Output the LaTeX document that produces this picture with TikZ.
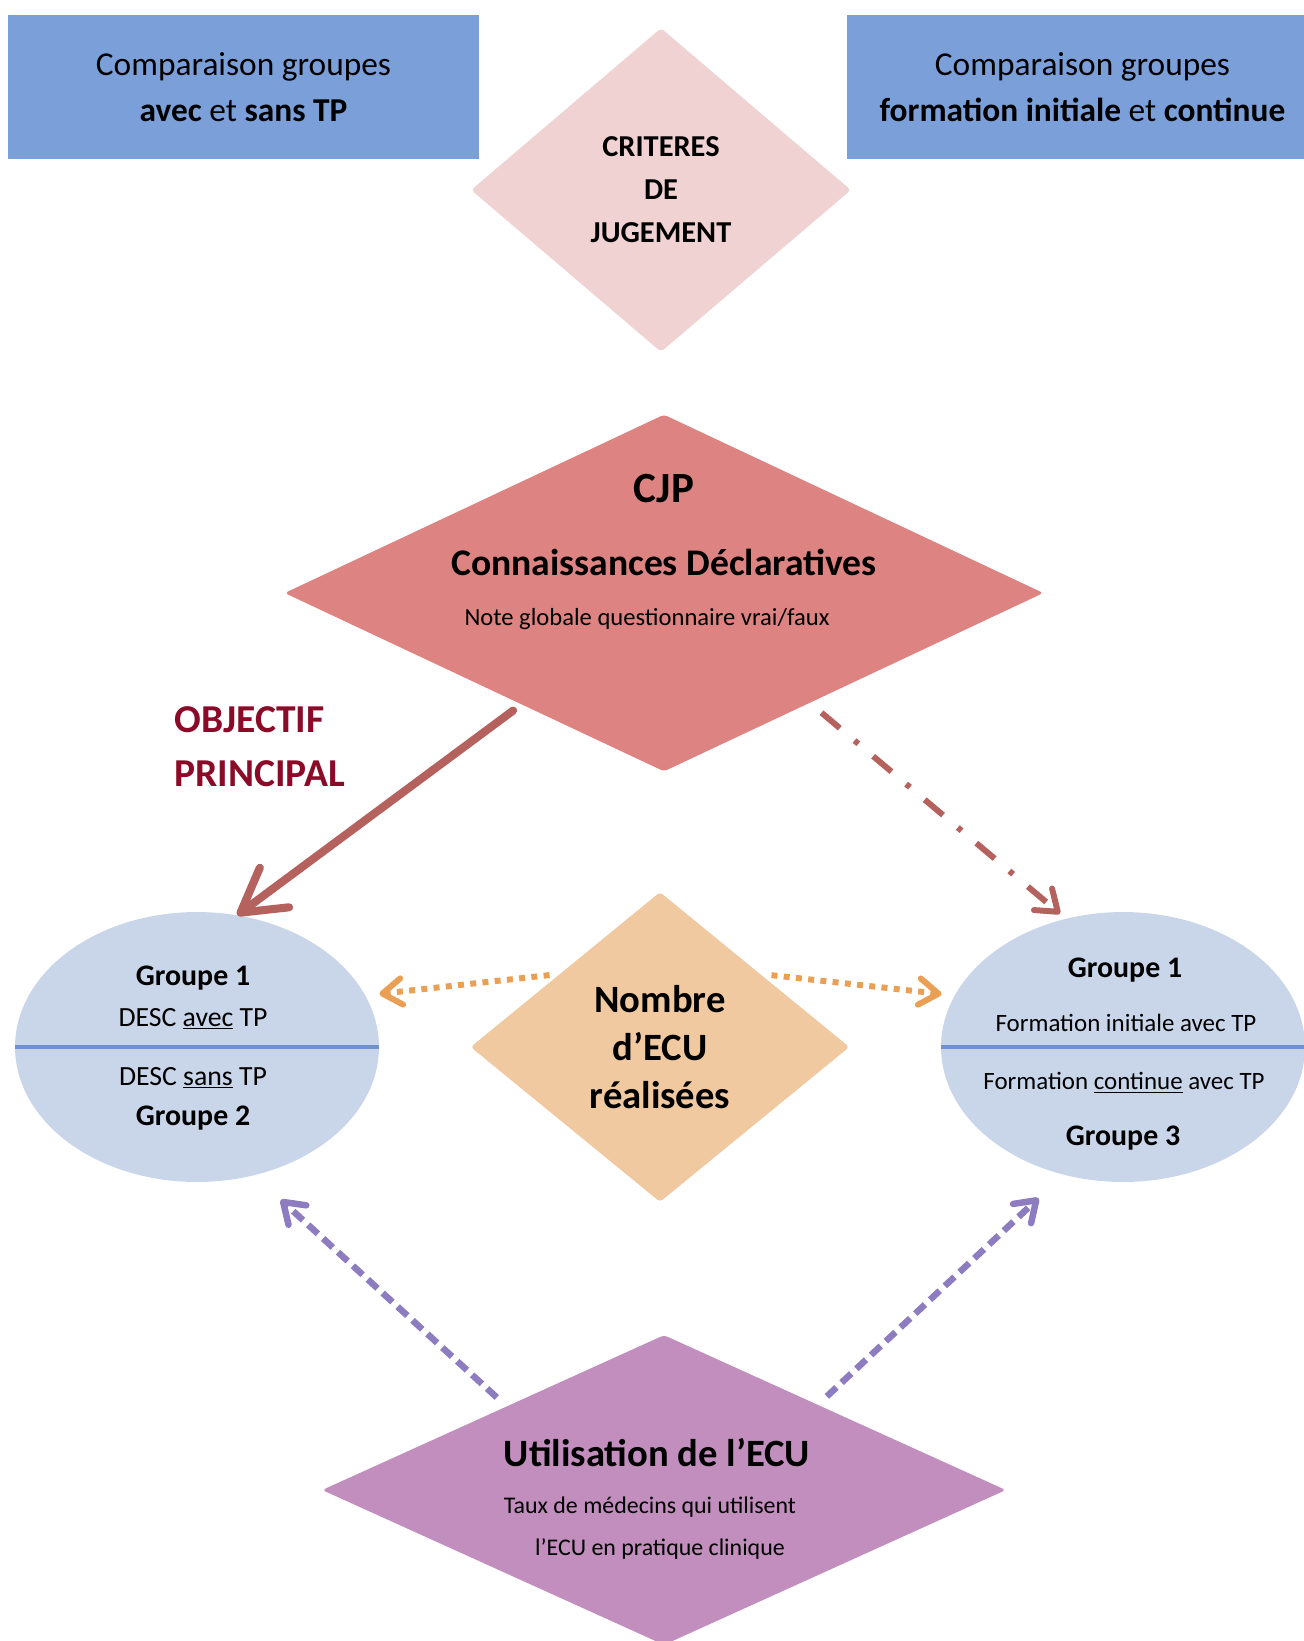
\documentclass[tikz,border=0pt]{standalone}
\usepackage{fontspec}
\setmainfont{Carlito}
\usepackage{tikz}
\usetikzlibrary{arrows.meta, positioning, shapes.geometric}
\definecolor{BoxBlue}{RGB}{123,160,217}
\definecolor{CritPink}{RGB}{240,210,211}
\definecolor{CjpRed}{RGB}{221,132,130}
\definecolor{NbrOrange}{RGB}{240,201,160}
\definecolor{EcuPurple}{RGB}{193,142,189}
\definecolor{GrpBlue}{RGB}{201,214,234}
\definecolor{DivBlue}{RGB}{112,146,204}
\definecolor{ObjRed}{RGB}{139,10,40}
\definecolor{ArrRed}{RGB}{181,97,94}
\definecolor{ArrOrange}{RGB}{233,160,85}
\definecolor{ArrPurple}{RGB}{142,124,192}
\definecolor{UlGray}{RGB}{90,90,100}

\begin{document}
\begin{tikzpicture}[x=0.02cm, y=-0.02cm,
  topbox/.style={rectangle, fill=BoxBlue, minimum width=9.42cm, minimum height=2.88cm,
                 align=center, font=\fontsize{19}{26.6}\selectfont},
  losange/.style={diamond, inner sep=0pt, rounded corners=2pt, align=center},
  groupe/.style={ellipse, fill=GrpBlue, minimum width=7.28cm, minimum height=5.4cm, inner sep=0pt},
  lbl/.style={inner sep=0pt, align=center},
  grpname/.style={lbl, font=\bfseries\fontsize{17}{20}\selectfont},
  divline/.style={draw=DivBlue, line width=2.6pt},
  bigarrow/.style={draw=ArrRed, line width=4.6pt, line cap=round,
                   -{Straight Barb[length=24pt, width=28pt, round]}},
  dasharrow/.style={draw=ArrRed, line width=3.4pt,
                    dash pattern=on 13.6pt off 11pt on 2.8pt off 11pt,
                    -{Straight Barb[length=11pt, width=16pt, round]}},
  dotarrow/.style={draw=ArrOrange, line width=3.4pt, dash pattern=on 3.4pt off 3.6pt,
                   -{Straight Barb[length=11pt, width=15pt, round]}},
  purparrow/.style={draw=ArrPurple, line width=3.7pt, dash pattern=on 7.5pt off 4pt,
                    -{Straight Barb[length=11pt, width=15pt, round]}}
]
\useasboundingbox (0,0) rectangle (1304,1641);
\clip (0,0) rectangle (1304,1641);

% comparaisons
\node[topbox] (cmpL) at (243.5,87) {Comparaison groupes\\\textbf{avec} et \textbf{sans TP}};
\node[topbox] (cmpR) at (1082.5,87) {Comparaison groupes\\\textbf{formation initiale} et \textbf{continue}};

% criteres
\node[losange, fill=CritPink, minimum width=7.6cm, minimum height=6.48cm,
      font=\bfseries\fontsize{17.3}{24.4}\selectfont] (crit) at (661,190) {CRITERES\\DE\\JUGEMENT};

\node[losange, fill=CjpRed, minimum width=15.18cm, minimum height=7.14cm] (cjp) at (664,593) {};
\node[lbl, font=\bfseries\fontsize{24.5}{28}\selectfont] (cjpTitle) at (664,489) {CJP};
\node[lbl, font=\bfseries\fontsize{21.4}{25}\selectfont] (cjpSub) at (664,562) {Connaissances Déclaratives};
\node[lbl, font=\fontsize{14}{17}\selectfont] (cjpNote) at (647,619) {Note globale questionnaire vrai/faux};

\node[lbl, anchor=west, align=left, text=ObjRed,
      font=\bfseries\fontsize{22.5}{30.6}\selectfont] (objPrinc) at (174,747) {OBJECTIF\\PRINCIPAL};

% groupes
\node[groupe] (grpL) at (197,1047) {};
\node[groupe] (grpR) at (1123,1047) {};
\draw[divline] (grpL.west) -- (grpL.east);
\draw[divline] (grpR.west) -- (grpR.east);

\node[grpname] (grpLa) at (193,978) {Groupe 1};
\node[lbl, font=\fontsize{15.8}{18}\selectfont] (grpLb) at (193,1019) {DESC \underline{avec} TP};
\node[lbl, font=\fontsize{15.8}{18}\selectfont] (grpLc) at (193,1078) {DESC \underline{sans} TP};
\node[grpname] (grpLd) at (193,1118) {Groupe 2};

\node[grpname] (grpRa) at (1125,970) {Groupe 1};
\node[lbl, font=\fontsize{14.2}{17}\selectfont] (grpRb) at (1126,1023) {Formation initiale avec TP};
\node[lbl, font=\fontsize{14.2}{17}\selectfont] (grpRc) at (1124,1083) {Formation \underline{continue} avec TP};
\node[grpname] (grpRd) at (1123,1138) {Groupe 3};

% nombre d'ECU
\node[losange, fill=NbrOrange, minimum width=7.58cm, minimum height=6.2cm,
      font=\bfseries\fontsize{22}{27.2}\selectfont] (nbr) at (660,1047) {Nombre\\d’ECU\\réalisées};

% utilisation
\node[losange, fill=EcuPurple, minimum width=13.68cm, minimum height=6.2cm] (ecu) at (664,1490) {};
\node[lbl, font=\bfseries\fontsize{22}{26}\selectfont] (ecuTitle) at (657,1453) {Utilisation de l’ECU};
\node[lbl, font=\fontsize{13.6}{16}\selectfont] (ecuTaux) at (650,1507) {Taux de médecins qui utilisent};
\node[lbl, font=\fontsize{13.6}{16}\selectfont] (ecuPrat) at (660,1549) {l’ECU en pratique clinique};

% fleches
\draw[bigarrow, shorten <=0.2cm] (cjp.218) -- (grpL.73);
\draw[dasharrow, shorten <=0.3cm, shorten >=0.15cm] (cjp.323) -- (grpR.114);
\draw[dotarrow, shorten <=0.2cm, shorten >=0.28cm] (nbr.144) -- (grpL.17);
\draw[dotarrow, shorten <=0.22cm, shorten >=0.26cm] (nbr.36) -- (grpR.163);
\draw[purparrow, shorten <=0.26cm, shorten >=0.72cm] (ecu.152) -- (grpL.294);
\draw[purparrow, shorten <=0.24cm, shorten >=0.68cm] (ecu.29) -- (grpR.245);
\end{tikzpicture}
\end{document}
